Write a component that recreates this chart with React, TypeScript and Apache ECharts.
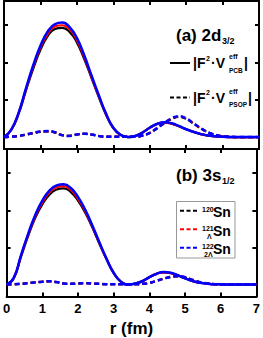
import React, { useEffect, useRef } from "react";
import * as echarts from "echarts";

// radial grid (fm)
const rValues = [0, 0.2, 0.4, 0.6, 0.8, 1.0, 1.2, 1.4, 1.6, 1.8, 2.0, 2.2, 2.4, 2.6, 2.8, 3.0, 3.2, 3.4, 3.6, 3.8, 4.0, 4.2, 4.4, 4.6, 4.8, 5.0, 5.2, 5.4, 5.6, 5.8, 6.0, 6.2, 6.4, 6.6, 6.8, 7.0];
const xTicks = [0, 1, 2, 3, 4, 5, 6, 7];
const yTicks = [1, 2, 3];

// (a) 2d3/2  |F^2 V_PCB|
const pcbA120 = [0, 0.19, 0.62, 1.24, 1.83, 2.34, 2.71, 2.9, 2.93, 2.82, 2.54, 2.1, 1.59, 1.08, 0.6, 0.24, 0.06, 0, 0.03, 0.12, 0.25, 0.35, 0.39, 0.36, 0.29, 0.21, 0.14, 0.08, 0.04, 0.02, 0.01, 0, 0, 0, 0, 0];
const pcbA121 = [0, 0.2, 0.64, 1.27, 1.88, 2.4, 2.77, 2.97, 3.0, 2.89, 2.6, 2.15, 1.62, 1.1, 0.62, 0.25, 0.06, 0, 0.03, 0.12, 0.25, 0.35, 0.39, 0.36, 0.29, 0.21, 0.14, 0.08, 0.04, 0.02, 0.01, 0, 0, 0, 0, 0];
const pcbA122 = [0, 0.2, 0.65, 1.3, 1.92, 2.45, 2.83, 3.03, 3.07, 2.95, 2.66, 2.2, 1.66, 1.13, 0.63, 0.25, 0.06, 0, 0.03, 0.12, 0.25, 0.35, 0.4, 0.37, 0.3, 0.21, 0.14, 0.08, 0.04, 0.02, 0.01, 0, 0, 0, 0, 0];
// (a) |F^2 V_PSOP|
const psopA120 = [0, 0.01, 0.03, 0.06, 0.1, 0.14, 0.15, 0.12, 0.05, 0.035, 0.065, 0.085, 0.065, 0.03, 0.01, 0.01, 0.01, 0.01, 0.01, 0.04, 0.11, 0.23, 0.37, 0.48, 0.54, 0.49, 0.36, 0.23, 0.13, 0.06, 0.02, 0.01, 0, 0, 0, 0];
const psopA121 = [0, 0.01, 0.03, 0.07, 0.11, 0.145, 0.155, 0.13, 0.055, 0.035, 0.07, 0.09, 0.07, 0.03, 0.01, 0.01, 0.01, 0.01, 0.01, 0.04, 0.11, 0.24, 0.37, 0.49, 0.55, 0.5, 0.37, 0.24, 0.13, 0.06, 0.02, 0.01, 0, 0, 0, 0];
const psopA122 = [0, 0.01, 0.03, 0.07, 0.11, 0.15, 0.16, 0.13, 0.05, 0.03, 0.07, 0.09, 0.07, 0.03, 0.01, 0.01, 0.01, 0.01, 0.01, 0.04, 0.11, 0.24, 0.38, 0.5, 0.56, 0.5, 0.37, 0.24, 0.13, 0.06, 0.02, 0.01, 0, 0, 0, 0];

// (b) 3s1/2  |F^2 V_PCB|
const pcbB120 = [0, 0.17, 0.74, 1.3, 1.79, 2.16, 2.42, 2.56, 2.59, 2.49, 2.26, 1.94, 1.54, 1.1, 0.68, 0.31, 0.08, 0, 0.03, 0.09, 0.2, 0.29, 0.33, 0.31, 0.25, 0.17, 0.1, 0.05, 0.03, 0.01, 0.01, 0, 0, 0, 0, 0];
const pcbB121 = [0, 0.18, 0.76, 1.33, 1.83, 2.21, 2.48, 2.62, 2.65, 2.55, 2.31, 1.98, 1.57, 1.12, 0.69, 0.32, 0.08, 0, 0.03, 0.09, 0.2, 0.29, 0.33, 0.31, 0.25, 0.17, 0.1, 0.05, 0.03, 0.01, 0.01, 0, 0, 0, 0, 0];
const pcbB122 = [0, 0.18, 0.78, 1.36, 1.87, 2.26, 2.53, 2.67, 2.7, 2.6, 2.36, 2.02, 1.6, 1.14, 0.7, 0.32, 0.08, 0, 0.03, 0.09, 0.2, 0.29, 0.34, 0.32, 0.25, 0.17, 0.1, 0.05, 0.03, 0.01, 0.01, 0, 0, 0, 0, 0];
// (b) |F^2 V_PSOP|
const psopB120 = [0, 0.01, 0.02, 0.04, 0.06, 0.075, 0.085, 0.065, 0.03, 0.02, 0.03, 0.04, 0.03, 0.02, 0.01, 0.01, 0.01, 0.01, 0.01, 0.02, 0.045, 0.1, 0.16, 0.2, 0.22, 0.19, 0.13, 0.07, 0.035, 0.015, 0.005, 0, 0, 0, 0, 0];
const psopB121 = [0, 0.01, 0.02, 0.04, 0.06, 0.08, 0.09, 0.07, 0.03, 0.02, 0.03, 0.04, 0.03, 0.02, 0.01, 0.01, 0.01, 0.01, 0.01, 0.02, 0.045, 0.1, 0.16, 0.21, 0.23, 0.2, 0.13, 0.07, 0.035, 0.015, 0.005, 0, 0, 0, 0, 0];
const psopB122 = [0, 0.01, 0.02, 0.04, 0.06, 0.08, 0.09, 0.07, 0.03, 0.02, 0.03, 0.04, 0.03, 0.02, 0.01, 0.01, 0.01, 0.01, 0.01, 0.02, 0.045, 0.1, 0.16, 0.21, 0.23, 0.2, 0.13, 0.07, 0.035, 0.015, 0.005, 0, 0, 0, 0, 0];

const nuclei = ["120Sn", "121ΛSn", "122ΛΛSn"];
const colors = ["#000000", "#ff0000", "#0000ff"];

const FONT = '"Liberation Sans", Arial, Helvetica, sans-serif';

export default function App() {
  const ref = useRef<HTMLDivElement>(null);

  useEffect(() => {
    document.body.style.margin = "0";
    if (!ref.current) return;
    const chart = echarts.init(ref.current, null, { renderer: "svg" });

    const pairs = (vals: number[]) => rValues.map((r, i) => [r, vals[i]]);

    const xBase = (grid: number, pos: "top" | "bottom", labels: boolean) => ({
      type: "value",
      gridIndex: grid,
      position: pos,
      min: xTicks[0],
      max: xTicks[xTicks.length - 1],
      interval: 1,
      axisLine: { show: true, onZero: false, lineStyle: { color: "#000", width: 2 } },
      axisTick: { show: true, inside: true, length: 4, lineStyle: { color: "#000", width: 2 } },
      axisLabel: {
        show: labels,
        color: "#000",
        fontSize: 13,
        fontWeight: "bold",
        fontFamily: FONT,
        margin: 5,
        showMinLabel: true,
        showMaxLabel: true,
      },
      splitLine: { show: false },
      ...(labels
        ? {
            name: "r (fm)",
            nameLocation: "middle",
            nameGap: 23,
            nameTextStyle: { color: "#000", fontSize: 17, fontWeight: "bold", fontFamily: FONT },
          }
        : {}),
    });

    const yBase = (grid: number, pos: "left" | "right") => ({
      type: "value",
      gridIndex: grid,
      position: pos,
      min: -0.32,
      max: 3.65,
      axisLine: { show: true, onZero: false, lineStyle: { color: "#000", width: 2 } },
      axisTick: { show: true, inside: true, length: 4, customValues: yTicks, lineStyle: { color: "#000", width: 2 } },
      axisLabel: { show: false },
      splitLine: { show: false },
    });

    const makeSeries = (vals: number[], color: string, dashed: boolean, xi: number, yi: number, name: string, w: number) => ({
      type: "line",
      name,
      xAxisIndex: xi,
      yAxisIndex: yi,
      data: pairs(vals),
      smooth: true,
      symbol: "none",
      lineStyle: { color, width: w, type: dashed ? [5, 3] : "solid" },
      silent: true,
    });

    const series = [
      makeSeries(pcbA120, colors[0], false, 0, 0, nuclei[0] + " PCB a", 2.2),
      makeSeries(pcbA121, colors[1], false, 0, 0, nuclei[1] + " PCB a", 2.2),
      makeSeries(psopA120, colors[0], true, 0, 0, nuclei[0] + " PSOP a", 2.2),
      makeSeries(psopA121, colors[1], true, 0, 0, nuclei[1] + " PSOP a", 2.2),
      makeSeries(pcbA122, colors[2], false, 0, 0, nuclei[2] + " PCB a", 2.5),
      makeSeries(psopA122, colors[2], true, 0, 0, nuclei[2] + " PSOP a", 2.5),
      makeSeries(pcbB120, colors[0], false, 2, 2, nuclei[0] + " PCB b", 2.2),
      makeSeries(pcbB121, colors[1], false, 2, 2, nuclei[1] + " PCB b", 2.2),
      makeSeries(psopB120, colors[0], true, 2, 2, nuclei[0] + " PSOP b", 2.2),
      makeSeries(psopB121, colors[1], true, 2, 2, nuclei[1] + " PSOP b", 2.2),
      makeSeries(pcbB122, colors[2], false, 2, 2, nuclei[2] + " PCB b", 2.5),
      makeSeries(psopB122, colors[2], true, 2, 2, nuclei[2] + " PSOP b", 2.5),
    ];

    const t = (text: string, x: number, y: number, size: number) => ({
      type: "text",
      x,
      y,
      z: 100,
      style: { text, fontSize: size, fontWeight: "bold", fontFamily: FONT, fill: "#000", align: "left", verticalAlign: "middle" },
    });
    const ln = (x1: number, x2: number, y: number, color: string, dashed: boolean) => ({
      type: "line",
      z: 100,
      shape: { x1, y1: y, x2, y2: y },
      style: { stroke: color, lineWidth: 2, lineDash: dashed ? [4, 2.5] : null },
    });

    const graphic: any[] = [
      // panel (a) title
      t("(a) 2d", 176, 35, 17),
      t("3/2", 222, 41, 9),
      // panel (a) legend
      ln(170, 190, 63, "#000", false),
      t("|F", 193, 63, 14),
      t("2", 206, 58, 7),
      t("·V", 211, 63, 14),
      t("eff", 229, 56, 7),
      t("PCB", 229, 70, 6.5),
      t("|", 244, 63, 14),
      ln(170, 190, 97.5, "#000", true),
      t("|F", 193, 97.5, 14),
      t("2", 206, 92.5, 7),
      t("·V", 211, 97.5, 14),
      t("eff", 229, 91, 7),
      t("PSOP", 229, 104.5, 6.5),
      t("|", 248, 97.5, 14),
      // panel (b) title
      t("(b) 3s", 176, 175, 17),
      t("1/2", 222, 181, 9),
      // panel (b) legend
      {
        type: "rect",
        z: 99,
        shape: { x: 176.5, y: 201.5, width: 58.5, height: 56.5 },
        style: { fill: "#fff", stroke: "#999", lineWidth: 1 },
      },
      ln(180, 198, 210.7, colors[0], true),
      t("120", 202, 209.5, 7),
      t("Sn", 213, 211.5, 14),
      ln(180, 198, 229.3, colors[1], true),
      t("121", 202, 228, 7),
      t("Λ", 207, 236, 7),
      t("Sn", 213, 230.5, 14),
      ln(180, 198, 247.7, colors[2], true),
      t("122", 202, 246.5, 7),
      t("2Λ", 204, 254.5, 7),
      t("Sn", 213, 249, 14),
    ];

    chart.setOption({
      animation: false,
      backgroundColor: "#fff",
      grid: [
        { left: 4, right: 4, top: 1, height: 148 },
        { left: 4, right: 4, top: 149, height: 147.5 },
      ],
      xAxis: [xBase(0, "bottom", false), xBase(0, "top", false), xBase(1, "bottom", true), xBase(1, "top", false)],
      yAxis: [yBase(0, "left"), yBase(0, "right"), yBase(1, "left"), yBase(1, "right")],
      series,
      graphic,
    } as any);

    return () => chart.dispose();
  }, []);

  return <div ref={ref} style={{ width: 263, height: 338 }} />;
}
